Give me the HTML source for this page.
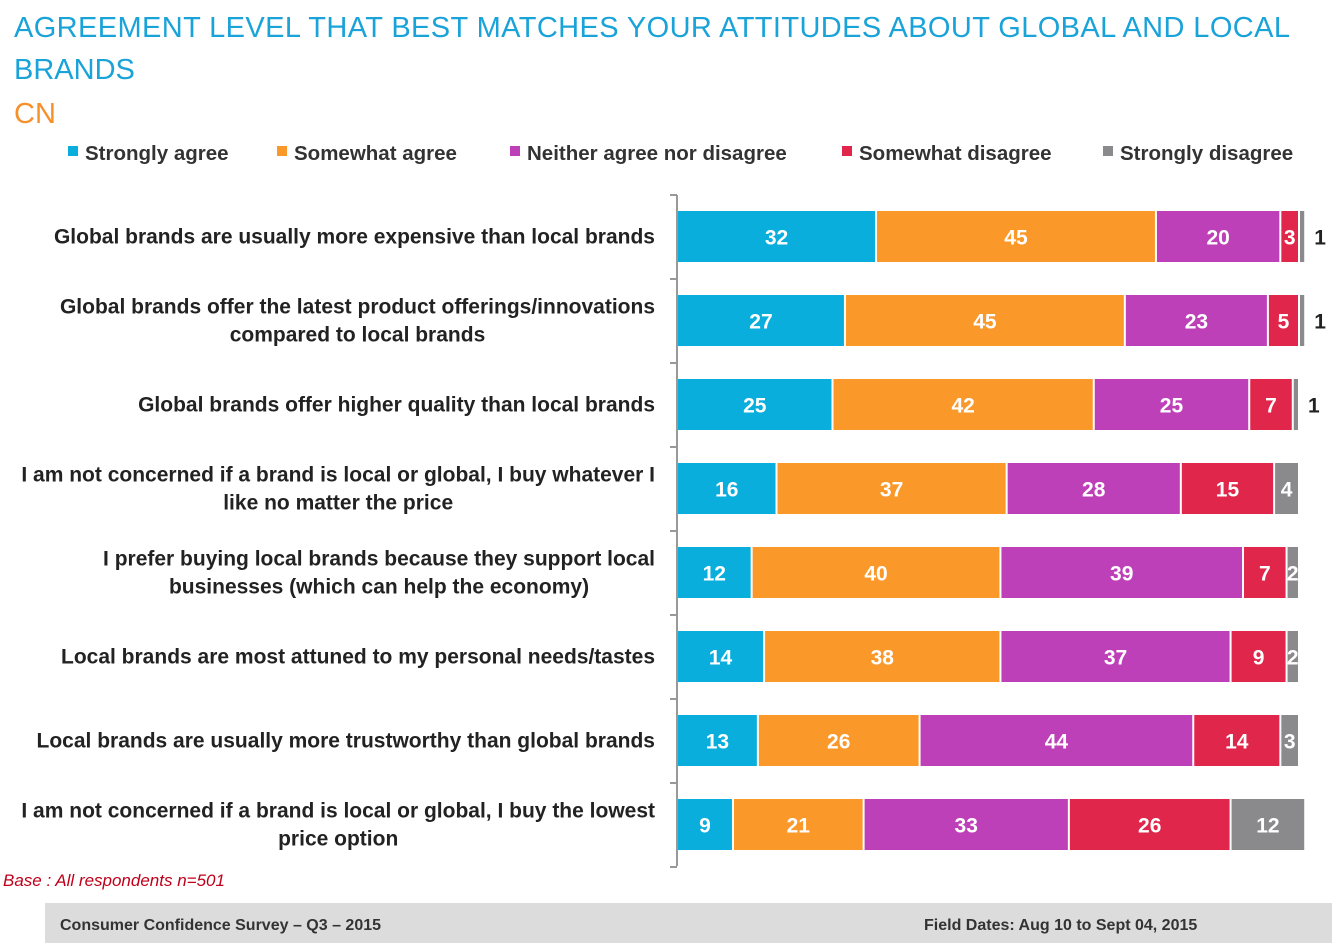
<!DOCTYPE html>
<html><head><meta charset="utf-8"><style>
body{margin:0;background:#fff;width:1338px;height:950px;overflow:hidden;font-family:"Liberation Sans",sans-serif}
svg{position:absolute;left:0;top:0}
</style></head><body>
<svg id="c" width="1338" height="950">
<text x="14" y="37" font-size="29" fill="#1aa3d9" textLength="1276">AGREEMENT LEVEL THAT BEST MATCHES YOUR ATTITUDES ABOUT GLOBAL AND LOCAL</text>
<text x="14" y="79" font-size="29" fill="#1aa3d9">BRANDS</text>
<text x="14" y="123" font-size="29" fill="#f7902a">CN</text>
<g id="legend"></g>
<g id="axis"></g>
<g id="bars"></g>
<text x="3" y="886" font-size="17" font-style="italic" fill="#c0001a">Base : All respondents n=501</text>
<rect x="45" y="903" width="1287" height="40" fill="#dcdcdc"/>
<text x="60" y="930" font-size="16" font-weight="bold" fill="#333">Consumer Confidence Survey – Q3 – 2015</text>
<text x="924" y="930" font-size="16" font-weight="bold" fill="#333">Field Dates: Aug 10 to Sept 04, 2015</text>
</svg>
<script>
const categories=["Global brands are usually more expensive than local brands","Global brands offer the latest product offerings/innovations|compared to local brands","Global brands offer higher quality than local brands","I am not concerned if a brand is local or global, I buy whatever I|like no matter the price","I prefer buying local brands because they support local|businesses (which can help the economy)","Local brands are most attuned to my personal needs/tastes","Local brands are usually more trustworthy than global brands","I am not concerned if a brand is local or global, I buy the lowest|price option"];
const seriesNames=["Strongly agree","Somewhat agree","Neither agree nor disagree","Somewhat disagree","Strongly disagree"];
const stronglyAgree=[32,27,25,16,12,14,13,9];
const somewhatAgree=[45,45,42,37,40,38,26,21];
const neither=[20,23,25,28,39,37,44,33];
const somewhatDisagree=[3,5,7,15,7,9,14,26];
const stronglyDisagree=[1,1,1,4,2,2,3,12];
const colors=["#0aaedc","#fb982a","#be40b8","#e0264a","#8a8a8c"];
const series=[stronglyAgree,somewhatAgree,neither,somewhatDisagree,stronglyDisagree];
const NS="http://www.w3.org/2000/svg";
function mk(t,a,p,txt){const e=document.createElementNS(NS,t);for(const k in a)e.setAttribute(k,a[k]);if(txt!=null)e.textContent=txt;p.appendChild(e);return e;}
const x0=678,unit=6.22;
const xs=v=>v*unit;
const rowY=i=>211+i*84;
const barH=51;
const lg=document.getElementById('legend');
const lx=[68,277,510,842,1103];
seriesNames.forEach((n,i)=>{
 const r=mk('rect',{x:lx[i],y:146,width:10,height:10,fill:colors[i]},lg);
 
 
 const t=mk('text',{x:lx[i]+17,y:160,'font-size':20.5,'font-weight':'bold',fill:'#333'},lg,n);
 
 
});
const ax=document.getElementById('axis');
mk('line',{x1:677,y1:195,x2:677,y2:866,stroke:'#999','stroke-width':2},ax);
for(let i=0;i<=8;i++){mk('line',{x1:670,y1:195+i*84,x2:677,y2:195+i*84,stroke:'#999','stroke-width':2},ax);}
const bg=document.getElementById('bars');
categories.forEach((c,i)=>{
 const cy=rowY(i)+barH/2;
 const lines=c.split('|');
 let first=null;
 lines.forEach((l,j)=>{
  const t=mk('text',{x:655,y:cy+7+(lines.length>1?(j-0.5)*28:0),'font-size':21,'font-weight':'bold',fill:'#222','text-anchor':'end'},bg,l);
  
  
  if(j==0)first=t;else{
   const b=first.getBBox();
   t.setAttribute('text-anchor','middle');
   t.setAttribute('x',b.x+b.width/2);
  }
 });
 let acc=0;
 series.forEach((s,k)=>{
  const v=s[i];const x=x0+xs(acc);const w=xs(v);
  const r=mk('rect',{x:x,y:rowY(i),width:Math.max(w-2,1),height:barH,fill:colors[k]},bg);
  
  
  if(v>=2){
   const t=mk('text',{x:x+(w-2)/2,y:cy+8,'font-size':21,'font-weight':'bold',fill:'#fff','text-anchor':'middle'},bg,v);
   
   
  } else {
   const t=mk('text',{x:x+w+8,y:cy+8,'font-size':21,'font-weight':'bold',fill:'#222'},bg,v);
   
   
  }
  acc+=v;
 });
});
</script>
</body></html>
